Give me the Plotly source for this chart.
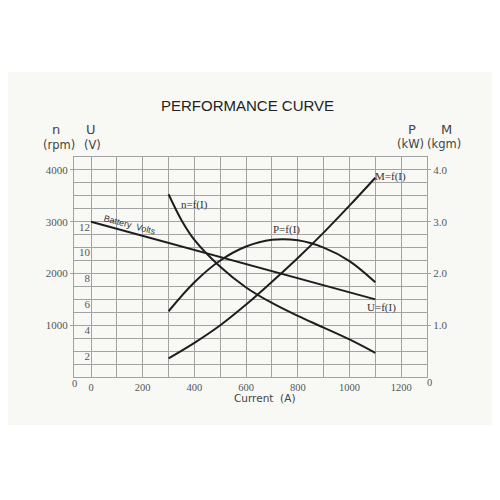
import plotly.graph_objects as go

# ---- data ----
current_n = [300, 350, 400, 500, 600, 700, 800, 900, 1000, 1100]
speed_rpm = [3530, 3030, 2650, 2130, 1730, 1430, 1180, 955, 725, 466]

current_p = [300, 400, 500, 600, 700, 800, 900, 1000, 1100]
power_kw = [1.27, 1.83, 2.25, 2.52, 2.65, 2.64, 2.50, 2.24, 1.83]

current_m = [300, 400, 500, 600, 700, 800, 900, 1000, 1100]
torque_kgm = [0.36, 0.66, 1.00, 1.40, 1.84, 2.30, 2.79, 3.31, 3.85]

current_u = [0, 1100]
volts = [12, 6]

x_ticks = [0, 200, 400, 600, 800, 1000, 1200]
rpm_ticks = [1000, 2000, 3000, 4000]
volt_ticks = [2, 4, 6, 8, 10, 12]
pm_ticks = [1, 2, 3, 4]
pm_ticktext = ["1.0", "2.0", "3.0", "4.0"]

# ---- geometry in window pixels; page body has an 8px margin ----
OFF = 8
W_FIG, H_FIG = 500 - OFF, 500 - OFF
L, R, T, B = 74, 427, 157, 377          # plot area in window pixels
PW, PH = R - L, B - T


def px(x):
    return (x - L) / PW


def py(y):
    return (B - y) / PH


BG = "#f8f9f5"
GRID = "#a3a3a3"
INK = "#1e1e1e"
TXT = "#444444"
serif = dict(family="Liberation Serif", size=11, color="#555555")
serif_x = dict(family="Liberation Serif", size=10.5, color="#555555")
sans = "DejaVu Sans"

fig = go.Figure()
line = dict(color=INK, width=2, shape="spline", smoothing=1.0)
fig.add_trace(go.Scatter(x=current_n, y=speed_rpm, mode="lines", line=line,
                         yaxis="y", hoverinfo="skip", showlegend=False))
fig.add_trace(go.Scatter(x=current_u, y=volts, mode="lines",
                         line=dict(color=INK, width=2), yaxis="y2",
                         hoverinfo="skip", showlegend=False))
fig.add_trace(go.Scatter(x=current_p, y=power_kw, mode="lines", line=line,
                         yaxis="y3", hoverinfo="skip", showlegend=False))
fig.add_trace(go.Scatter(x=current_m, y=torque_kgm, mode="lines", line=line,
                         yaxis="y3", hoverinfo="skip", showlegend=False))

fig.update_layout(
    width=W_FIG, height=H_FIG,
    margin=dict(l=L - OFF, r=500 - R, t=T - OFF, b=500 - B, pad=0),
    paper_bgcolor="white", plot_bgcolor=BG,
    xaxis=dict(range=[-66, 1300], tickvals=x_ticks, showgrid=True,
               gridcolor=GRID, gridwidth=1, zeroline=False,
               minor=dict(dtick=100, tick0=0, showgrid=True, gridcolor=GRID,
                          gridwidth=1),
               showline=True, linecolor=GRID, linewidth=1, mirror=True,
               ticks="", tickfont=serif_x, ticklabelstandoff=0),
    yaxis=dict(range=[0, 4250], tickvals=rpm_ticks, showgrid=True,
               gridcolor=GRID, gridwidth=1, zeroline=False,
               minor=dict(dtick=250, tick0=0, showgrid=True, gridcolor=GRID,
                          gridwidth=1),
               showline=True, linecolor=GRID, linewidth=1, mirror=True,
               ticks="outside", ticklen=3, tickcolor=GRID, tickfont=serif),
    yaxis2=dict(range=[0, 17], overlaying="y", side="left", anchor="free",
                position=px(91), tickvals=volt_ticks, showgrid=False,
                zeroline=False, showline=False, ticks="", tickfont=serif,
                ticklabelshift=5, ticklabelstandoff=1),
    yaxis3=dict(range=[0, 4.25], overlaying="y", side="right", anchor="x",
                tickvals=pm_ticks, ticktext=pm_ticktext, showgrid=False,
                zeroline=False, showline=False, ticks="outside", ticklen=3,
                tickcolor=GRID, tickfont=serif),
)

# page background band
fig.add_shape(type="rect", xref="paper", yref="paper",
              x0=px(-5), x1=px(505), y0=py(425), y1=py(72),
              fillcolor=BG, line=dict(width=0), layer="below")

ann = []


def A(text, x, y, size, family=sans, color=TXT):
    ann.append(dict(text=text, x=px(x), y=py(y), xref="paper", yref="paper",
                    xanchor="center", yanchor="middle", showarrow=False,
                    font=dict(family=family, size=size, color=color)))


A("PERFORMANCE CURVE", 247, 106, 15, family="Liberation Sans", color="#222222")
A("n", 56, 130, 13)
A("(rpm)", 59, 145, 11.5)
A("U", 91, 130, 13)
A("(V)", 92, 145, 11.5)
A("P", 412, 129, 13)
A("(kW)", 410, 144, 11.5)
A("M", 446, 129, 13)
A("(kgm)", 444, 144, 11.5)
A("Current  (A)", 265, 398, 10.5)
A("0", 74, 383, 10.5, family="Liberation Serif", color="#555555")
A("0", 429, 382, 10.5, family="Liberation Serif", color="#555555")

# curve labels (data coords)
for text, xi, yr in [("n=f(I)", 402, 3342),
                     ("P=f(I)", 758, 2840),
                     ("M=f(I)", 1157, 3864),
                     ("U=f(I)", 1122, 1352)]:
    ann.append(dict(text=text, x=xi, y=yr, xref="x", yref="y",
                    xanchor="center", yanchor="middle", showarrow=False,
                    font=dict(family="Liberation Serif", size=11,
                              color="#333333")))
ann.append(dict(text="Battery  Volts", x=151, y=2937, xref="x", yref="y",
                xanchor="center", yanchor="middle",
                showarrow=False, textangle=15,
                font=dict(family="Liberation Sans", size=9, color="#333333")))

fig.update_layout(annotations=ann)
fig.write_html("out.html")
